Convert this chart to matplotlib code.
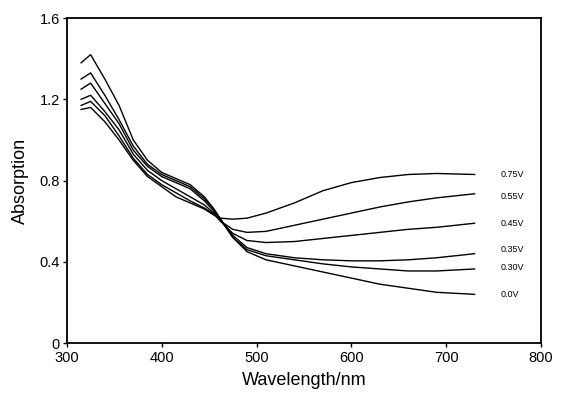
import matplotlib.pyplot as plt

plt.rcParams['font.family'] = ['Liberation Sans', 'DejaVu Sans']

# wavelengths (nm) shared by all spectra
wl = [315, 325, 340, 355, 370, 385, 400, 415, 430, 445, 455, 462,
      475, 490, 510, 540, 570, 600, 630, 660, 690, 730]

# absorption
a_00 = [1.38, 1.42, 1.30, 1.17, 1.00, 0.90, 0.84, 0.81, 0.78, 0.72, 0.66, 0.61,
        0.52, 0.45, 0.41, 0.38, 0.35, 0.32, 0.29, 0.27, 0.25, 0.24]
a_30 = [1.30, 1.33, 1.22, 1.10, 0.97, 0.88, 0.83, 0.80, 0.77, 0.71, 0.66, 0.61,
        0.52, 0.46, 0.43, 0.41, 0.39, 0.375, 0.365, 0.355, 0.355, 0.365]
a_35 = [1.25, 1.28, 1.18, 1.08, 0.95, 0.87, 0.82, 0.79, 0.76, 0.70, 0.65, 0.61,
        0.53, 0.47, 0.44, 0.42, 0.41, 0.405, 0.405, 0.41, 0.42, 0.44]
a_45 = [1.20, 1.22, 1.14, 1.05, 0.93, 0.85, 0.80, 0.76, 0.72, 0.68, 0.64, 0.60,
        0.54, 0.505, 0.495, 0.50, 0.515, 0.53, 0.545, 0.56, 0.57, 0.59]
a_55 = [1.17, 1.19, 1.12, 1.02, 0.91, 0.83, 0.78, 0.74, 0.70, 0.665, 0.635, 0.60,
        0.56, 0.545, 0.55, 0.58, 0.61, 0.64, 0.67, 0.695, 0.715, 0.735]
a_75 = [1.15, 1.16, 1.09, 1.00, 0.90, 0.82, 0.77, 0.72, 0.69, 0.66, 0.63, 0.615,
        0.61, 0.615, 0.64, 0.69, 0.75, 0.79, 0.815, 0.83, 0.835, 0.83]

labels = ['0.75V', '0.55V', '0.45V', '0.35V', '0.30V', '0.0V']
series = [a_75, a_55, a_45, a_35, a_30, a_00]
label_y = [0.83, 0.72, 0.59, 0.46, 0.37, 0.24]

fig = plt.figure(figsize=(5.67, 3.93), dpi=100)
ax = fig.add_axes([0.118, 0.127, 0.836, 0.827])

for s, lab, ly in zip(series, labels, label_y):
    ax.plot(wl, s, color='black', linewidth=1.0)
    ax.text(757, ly, lab, fontsize=6.5, va='center', ha='left')

ax.set_xlim(300, 800)
ax.set_ylim(0, 1.6)
ax.set_xticks([300, 400, 500, 600, 700, 800])
ax.set_yticks([0, 0.4, 0.8, 1.2, 1.6])
ax.set_yticklabels(['0', '0.4', '0.8', '1.2', '1.6'])
ax.tick_params(direction='out', length=3, width=1, labelsize=10.5)
ax.tick_params(axis='x', pad=3)
ax.tick_params(axis='y', pad=2)
for sp in ax.spines.values():
    sp.set_linewidth(1.3)

ax.set_xlabel('Wavelength/nm', fontsize=13, labelpad=5)
ax.set_ylabel('Absorption', fontsize=13, labelpad=8)

fig.savefig('out.png', dpi=100)
